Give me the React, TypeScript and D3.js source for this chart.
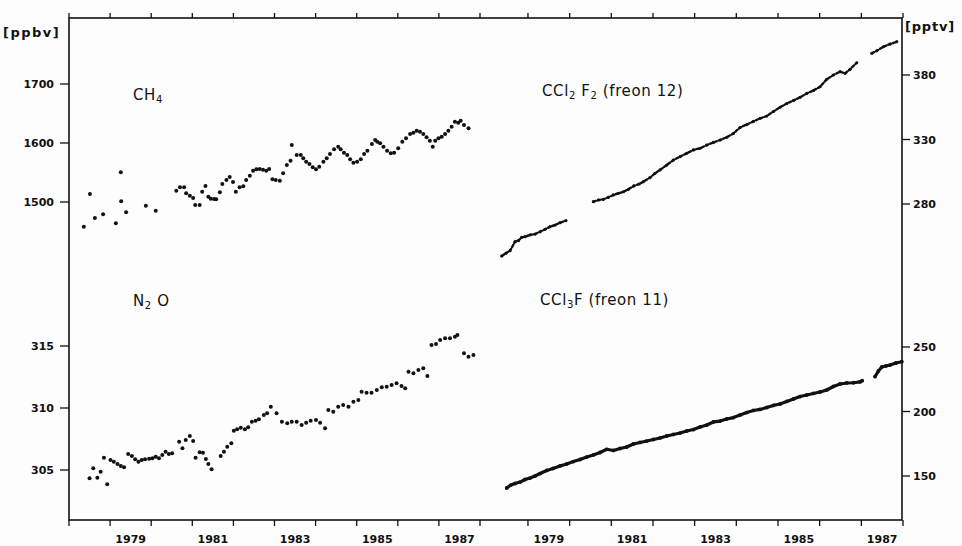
import React from "react";
import * as d3 from "d3";

// decimal year, value
const ch4: [number, number][] = [
  [1978.36, 1458.1], [1978.51, 1513.6], [1978.63, 1472.9], [1978.83, 1479.2], [1979.14, 1463.9],
  [1979.26, 1550.3], [1979.27, 1501.2], [1979.39, 1482.5], [1979.87, 1493.7], [1980.11, 1485.3],
  [1980.61, 1519.2], [1980.7, 1524.9], [1980.8, 1524.9], [1980.85, 1514.7], [1980.94, 1510.7],
  [1981.02, 1506.8], [1981.07, 1494.9], [1981.18, 1494.9], [1981.24, 1517.5], [1981.32, 1527.1],
  [1981.39, 1509.0], [1981.45, 1505.6], [1981.53, 1505.1], [1981.58, 1504.6], [1981.67, 1516.4],
  [1981.73, 1530.5], [1981.83, 1537.3], [1981.91, 1542.4], [1981.99, 1533.9], [1982.06, 1517.5],
  [1982.15, 1524.9], [1982.24, 1526.6], [1982.31, 1537.3], [1982.4, 1544.6], [1982.48, 1553.1],
  [1982.56, 1555.4], [1982.64, 1555.9], [1982.72, 1554.7], [1982.8, 1553.1], [1982.87, 1555.9],
  [1982.95, 1538.5], [1983.03, 1537.3], [1983.13, 1536.1], [1983.21, 1548.6], [1983.3, 1562.7],
  [1983.39, 1570.0], [1983.42, 1596.6], [1983.54, 1579.7], [1983.64, 1579.7], [1983.7, 1574.1],
  [1983.77, 1568.3], [1983.85, 1564.4], [1983.93, 1558.8], [1984.01, 1555.4], [1984.09, 1559.8],
  [1984.19, 1568.3], [1984.27, 1574.1], [1984.35, 1581.4], [1984.45, 1589.3], [1984.55, 1593.7],
  [1984.61, 1589.3], [1984.69, 1583.6], [1984.77, 1579.7], [1984.84, 1572.4], [1984.92, 1566.6],
  [1985.01, 1568.3], [1985.1, 1572.4], [1985.18, 1581.4], [1985.26, 1587.0], [1985.37, 1598.3],
  [1985.45, 1605.1], [1985.5, 1602.2], [1985.57, 1599.5], [1985.65, 1593.7], [1985.74, 1587.0],
  [1985.83, 1582.5], [1985.91, 1583.6], [1986.01, 1591.0], [1986.11, 1602.2], [1986.2, 1608.0],
  [1986.3, 1615.3], [1986.38, 1617.5], [1986.46, 1620.9], [1986.54, 1619.2], [1986.62, 1615.3],
  [1986.7, 1609.7], [1986.78, 1603.9], [1986.85, 1593.7], [1986.91, 1603.9], [1986.99, 1608.0],
  [1987.07, 1610.7], [1987.15, 1615.3], [1987.23, 1620.9], [1987.31, 1627.6], [1987.39, 1636.1],
  [1987.47, 1634.4], [1987.53, 1637.8], [1987.61, 1630.5], [1987.72, 1624.9],
];

const n2o: [number, number][] = [
  [1978.5, 304.33], [1978.59, 305.14], [1978.69, 304.38], [1978.77, 304.86], [1978.85, 305.99],
  [1978.93, 303.85], [1979.01, 305.81], [1979.09, 305.67], [1979.18, 305.48], [1979.26, 305.32],
  [1979.34, 305.22], [1979.44, 306.29], [1979.53, 306.13], [1979.61, 305.86], [1979.69, 305.67],
  [1979.77, 305.81], [1979.85, 305.86], [1979.95, 305.91], [1980.03, 305.94], [1980.11, 306.07],
  [1980.19, 305.94], [1980.27, 306.21], [1980.35, 306.48], [1980.43, 306.29], [1980.51, 306.35],
  [1980.68, 307.28], [1980.76, 306.75], [1980.84, 307.42], [1980.94, 307.74], [1981.02, 307.34],
  [1981.08, 305.99], [1981.18, 306.43], [1981.26, 306.4], [1981.33, 305.89], [1981.39, 305.48],
  [1981.47, 305.06], [1981.69, 306.13], [1981.77, 306.48], [1981.85, 306.88], [1981.95, 307.15],
  [1982.01, 308.17], [1982.09, 308.28], [1982.18, 308.41], [1982.28, 308.28], [1982.36, 308.44],
  [1982.45, 308.9], [1982.54, 308.98], [1982.62, 309.09], [1982.74, 309.44], [1982.82, 309.57],
  [1982.91, 310.1], [1983.05, 309.57], [1983.18, 308.9], [1983.31, 308.77], [1983.42, 308.9],
  [1983.54, 308.9], [1983.66, 308.63], [1983.77, 308.81], [1983.88, 308.98], [1984.01, 309.03],
  [1984.11, 308.81], [1984.23, 308.36], [1984.31, 309.84], [1984.43, 309.7], [1984.55, 310.1],
  [1984.67, 310.24], [1984.8, 310.1], [1984.92, 310.51], [1985.04, 310.65], [1985.12, 311.31],
  [1985.24, 311.23], [1985.36, 311.23], [1985.49, 311.45], [1985.61, 311.67], [1985.73, 311.72],
  [1985.85, 311.85], [1985.97, 311.99], [1986.09, 311.77], [1986.18, 311.59], [1986.26, 312.93],
  [1986.38, 312.8], [1986.5, 313.06], [1986.62, 313.2], [1986.72, 312.58], [1986.82, 315.08],
  [1986.93, 315.16], [1987.03, 315.48], [1987.15, 315.62], [1987.27, 315.62], [1987.39, 315.75],
  [1987.45, 315.89], [1987.61, 314.41], [1987.72, 314.14], [1987.84, 314.27],
];

const f12a: [number, number][] = [
  [1978.37, 239.7], [1978.47, 241.8], [1978.57, 243.8], [1978.69, 250.8], [1978.77, 251.6],
  [1978.85, 254.2], [1978.93, 254.7], [1979.05, 256.0], [1979.17, 256.7], [1979.29, 258.5],
  [1979.41, 260.4], [1979.53, 262.4], [1979.65, 263.7], [1979.77, 265.5], [1979.91, 267.1],
];
const f12b: [number, number][] = [
  [1980.57, 281.8], [1980.69, 283.1], [1980.81, 283.6], [1980.93, 285.2], [1981.05, 287.0],
  [1981.17, 288.3], [1981.29, 289.5], [1981.41, 291.4], [1981.54, 294.0], [1981.67, 295.5],
  [1981.77, 297.3], [1981.93, 300.5], [1982.05, 303.8], [1982.17, 306.4], [1982.33, 310.2],
  [1982.49, 314.1], [1982.65, 316.7], [1982.81, 319.3], [1982.97, 321.9], [1983.13, 323.2],
  [1983.29, 325.7], [1983.45, 327.7], [1983.61, 329.6], [1983.77, 331.7], [1983.93, 334.7],
  [1984.09, 339.3], [1984.25, 341.6], [1984.41, 344.0], [1984.57, 346.4], [1984.73, 348.2],
  [1984.89, 351.7], [1985.05, 355.0], [1985.21, 357.9], [1985.37, 360.2], [1985.53, 362.7],
  [1985.69, 365.7], [1985.85, 368.0], [1986.01, 370.9], [1986.17, 376.7], [1986.33, 380.0],
  [1986.49, 382.6], [1986.61, 381.3], [1986.73, 384.4], [1986.89, 389.5],
];
const f12c: [number, number][] = [
  [1987.25, 396.8], [1987.37, 398.8], [1987.53, 401.9], [1987.69, 404.0], [1987.85, 405.8],
];

const f11a: [number, number][] = [
  [1978.49, 140.7], [1978.59, 143.0], [1978.69, 144.2], [1978.81, 145.3], [1978.93, 147.3],
  [1979.05, 148.4], [1979.17, 150.0], [1979.29, 151.9], [1979.45, 154.3], [1979.6, 155.8],
  [1979.77, 157.8], [1979.93, 159.3], [1980.09, 161.2], [1980.25, 162.8], [1980.41, 164.7],
  [1980.57, 166.3], [1980.73, 168.2], [1980.89, 170.7], [1981.05, 169.8], [1981.21, 171.3],
  [1981.37, 172.5], [1981.53, 174.8], [1981.69, 176.0], [1981.85, 177.1], [1982.01, 178.3],
  [1982.17, 179.5], [1982.33, 181.0], [1982.49, 182.2], [1982.65, 183.3], [1982.81, 184.9],
  [1982.97, 186.0], [1983.13, 188.0], [1983.29, 189.5], [1983.45, 191.9], [1983.61, 192.6],
  [1983.77, 194.2], [1983.93, 195.3], [1984.09, 197.3], [1984.25, 199.2], [1984.41, 200.8],
  [1984.57, 201.6], [1984.73, 203.1], [1984.89, 204.7], [1985.05, 205.8], [1985.21, 207.8],
  [1985.37, 209.7], [1985.53, 211.6], [1985.69, 212.8], [1985.85, 214.0], [1986.01, 215.1],
  [1986.17, 216.7], [1986.33, 219.4], [1986.49, 221.3], [1986.65, 222.1], [1986.81, 222.3],
  [1986.97, 222.9], [1987.02, 223.9],
];
const f11b: [number, number][] = [
  [1987.33, 227.1], [1987.41, 231.4], [1987.49, 234.5], [1987.59, 235.3], [1987.69, 236.0],
  [1987.83, 237.6], [1987.97, 238.6],
];

const yearTicks = d3.range(1978, 1989);
const yearLabels = [1979, 1981, 1983, 1985, 1987];
const ch4Ticks = [1500, 1600, 1700];
const n2oTicks = [305, 310, 315];
const f12Ticks = [280, 330, 380];
const f11Ticks = [150, 200, 250];

const W = 962;
const H = 546;
const left = 69;
const right = 902;
const top = 18;
const bottom = 520;
const ink = "#111";
const tickFont = "'DejaVu Sans', sans-serif";
const labelFont = "'DejaVu Sans', sans-serif";

export default function App() {
  const xL = d3.scaleLinear().domain([1978, 1988]).range([69, 480]);
  const xR = d3.scaleLinear().domain([1978, 1988]).range([486.3, 903]);
  const yCH4 = d3.scaleLinear().domain([1500, 1700]).range([202, 84]);
  const yN2O = d3.scaleLinear().domain([305, 315]).range([470, 346]);
  const yF12 = d3.scaleLinear().domain([280, 380]).range([204, 75]);
  const yF11 = d3.scaleLinear().domain([150, 250]).range([476, 347]);

  const lineF12 = d3.line<[number, number]>().x((d) => xR(d[0])).y((d) => yF12(d[1]));
  const lineF11 = d3.line<[number, number]>().x((d) => xR(d[0])).y((d) => yF11(d[1]));

  const xTicks = [...yearTicks.map((t) => xL(t)), ...yearTicks.slice(1).map((t) => xR(t))];

  return (
    <div style={{ position: "absolute", left: 0, top: 0 }}>
      <svg width={W} height={H} style={{ display: "block", background: "#fdfdfd" }}>
        {/* frame */}
        <rect x={left} y={top} width={right - left} height={bottom - top} fill="none" stroke={ink} strokeWidth={1.6} />

        {xTicks.map((x, i) => (
          <g key={"xt" + i} stroke={ink} strokeWidth={1.3}>
            <line x1={x} x2={x} y1={bottom} y2={bottom + 6} />
            <line x1={x} x2={x} y1={top} y2={top - 5} />
          </g>
        ))}
        {yearLabels.map((yr) => (
          <g key={"yl" + yr} fontFamily={tickFont} fontWeight="bold" fontSize={11} fill={ink} textAnchor="middle">
            <text x={xL(yr + 0.5)} y={543}>{yr}</text>
            <text x={xR(yr + 0.5)} y={543}>{yr}</text>
          </g>
        ))}

        {/* left axis */}
        {ch4Ticks.map((t) => (
          <g key={"c" + t}>
            <line x1={left - 9} x2={left} y1={yCH4(t)} y2={yCH4(t)} stroke={ink} strokeWidth={1.3} />
            <text x={54} y={yCH4(t) + 4} textAnchor="end" fontFamily={tickFont} fontWeight="bold" fontSize={11} fill={ink}>{t}</text>
          </g>
        ))}
        {n2oTicks.map((t) => (
          <g key={"n" + t}>
            <line x1={left - 9} x2={left} y1={yN2O(t)} y2={yN2O(t)} stroke={ink} strokeWidth={1.3} />
            <text x={54} y={yN2O(t) + 4} textAnchor="end" fontFamily={tickFont} fontWeight="bold" fontSize={11} fill={ink}>{t}</text>
          </g>
        ))}
        {/* right axis */}
        {f12Ticks.map((t) => (
          <g key={"f12" + t}>
            <line x1={right} x2={right + 8} y1={yF12(t)} y2={yF12(t)} stroke={ink} strokeWidth={1.3} />
            <text x={913} y={yF12(t) + 4} fontFamily={tickFont} fontWeight="bold" fontSize={11} fill={ink}>{t}</text>
          </g>
        ))}
        {f11Ticks.map((t) => (
          <g key={"f11" + t}>
            <line x1={right} x2={right + 8} y1={yF11(t)} y2={yF11(t)} stroke={ink} strokeWidth={1.3} />
            <text x={913} y={yF11(t) + 4} fontFamily={tickFont} fontWeight="bold" fontSize={11} fill={ink}>{t}</text>
          </g>
        ))}

        <text x={3} y={37} fontFamily={tickFont} fontWeight="bold" fontSize={13} letterSpacing={1.5} fill={ink}>[ppbv]</text>
        <text x={905} y={31} fontFamily={tickFont} fontWeight="bold" fontSize={13} letterSpacing={0.8} fill={ink}>[pptv]</text>

        {/* series names */}
        <g fontFamily={labelFont} fontSize={15} letterSpacing={0.6} fill={ink}>
          <text x={133} y={100}>CH<tspan fontSize={10} dy={3}>4</tspan></text>
          <text x={133} y={306}>N<tspan fontSize={10} dy={3}>2</tspan><tspan dy={-3}> O</tspan></text>
          <text x={542} y={96}>
            CCl<tspan fontSize={10} dy={3}>2</tspan><tspan dy={-3}> F</tspan><tspan fontSize={10} dy={3}>2</tspan>
            <tspan dy={-3}> (freon 12)</tspan>
          </text>
          <text x={540} y={305}>
            CCl<tspan fontSize={10} dy={3}>3</tspan><tspan dy={-3}>F (freon 11)</tspan>
          </text>
        </g>

        {/* CH4 and N2O dots */}
        {ch4.map((d, i) => (
          <circle key={"ch" + i} cx={xL(d[0])} cy={yCH4(d[1])} r={2} fill={ink} />
        ))}
        {n2o.map((d, i) => (
          <circle key={"no" + i} cx={xL(d[0])} cy={yN2O(d[1])} r={2} fill={ink} />
        ))}

        {/* freon 12: densely spaced dots */}
        {[f12a, f12b, f12c].map((seg, i) => (
          <path key={"l12" + i} d={lineF12(seg) || ""} fill="none" stroke={ink} strokeWidth={2.4}
            strokeDasharray="2.5 2.2" strokeLinecap="round" />
        ))}
        {[...f12a, ...f12b, ...f12c].map((d, i) => (
          <circle key={"p12" + i} cx={xR(d[0])} cy={yF12(d[1])} r={1.6} fill={ink} />
        ))}

        {/* freon 11: nearly continuous */}
        {[f11a, f11b].map((seg, i) => (
          <path key={"l11" + i} d={lineF11(seg) || ""} fill="none" stroke={ink} strokeWidth={3.2}
            strokeLinecap="round" strokeLinejoin="round" />
        ))}
        {[...f11a, ...f11b].map((d, i) => (
          <circle key={"p11" + i} cx={xR(d[0])} cy={yF11(d[1])} r={1.9} fill={ink} />
        ))}
      </svg>
    </div>
  );
}
